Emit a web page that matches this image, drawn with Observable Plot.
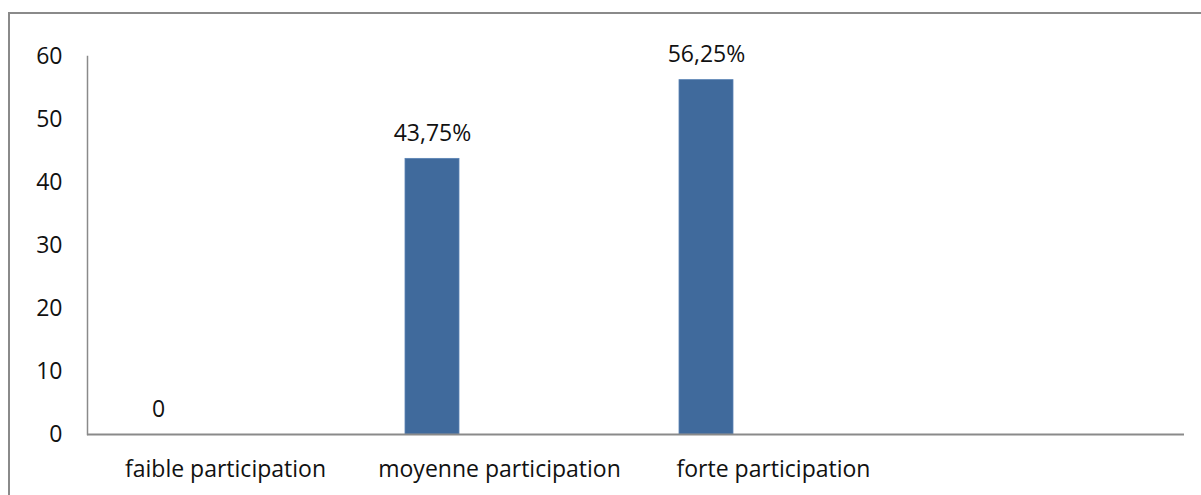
<!DOCTYPE html>
<html>
<head>
<meta charset="utf-8">
<script src="https://cdn.jsdelivr.net/npm/d3@7"></script>
<script src="https://cdn.jsdelivr.net/npm/@observablehq/plot@0.6"></script>
<style>
  html, body { margin: 0; padding: 0; background: #fff; overflow: hidden; }
  #wrap { position: relative; width: 1201px; height: 495px; overflow: hidden; }
  #border { position: absolute; left: 8px; top: 12px; width: 1400px; height: 700px; border: 2px solid #8a8a8a; box-sizing: border-box; pointer-events: none; }
  #chart { position: absolute; left: 0; top: 0; }
</style>
</head>
<body>
<div id="wrap"><div id="chart"></div><div id="border"></div></div>
<script>
const categories = ["faible participation", "moyenne participation", "forte participation", " "];
const values = [0, 43.75, 56.25];
const valueLabels = ["0", "43,75%", "56,25%"];
const yTicks = [0, 10, 20, 30, 40, 50, 60];

const data = values.map((v, i) => ({cat: categories[i], value: v, label: valueLabels[i]}));

const font = "'Open Sans', sans-serif";

const chart = Plot.plot({
  width: 1201,
  height: 495,
  marginLeft: 87,
  marginRight: 17,
  marginTop: 56,
  marginBottom: 61,
  style: {fontFamily: font, fontSize: "23px", color: "#111", background: "transparent"},
  x: {type: "band", domain: categories, padding: 0, label: null},
  y: {domain: [0, 60], ticks: yTicks, label: null},
  marks: [
    Plot.axisY({ticks: yTicks, tickSize: 0, tickPadding: 25, label: null, fontSize: 23}),
    Plot.axisX({tickSize: 0, tickPadding: 26, label: null, fontSize: 23, tickFormat: d => d.trim()}),
    Plot.barY(data, {x: "cat", y: "value", fill: "#406a9c", stroke: "#5a83b5", strokeWidth: 0.8, insetLeft: 43, insetRight: 177}),
    Plot.frame({anchor: "left", stroke: "#8a8a8a", strokeWidth: 1.5}),
    Plot.ruleY([0], {stroke: "#8a8a8a", strokeWidth: 2}),
    Plot.text(data, {x: "cat", y: "value", text: "label", dx: -67, dy: -18, lineAnchor: "bottom", fontSize: 23, fill: "#111"})
  ]
});
document.getElementById("chart").appendChild(chart);
</script>
</body>
</html>
